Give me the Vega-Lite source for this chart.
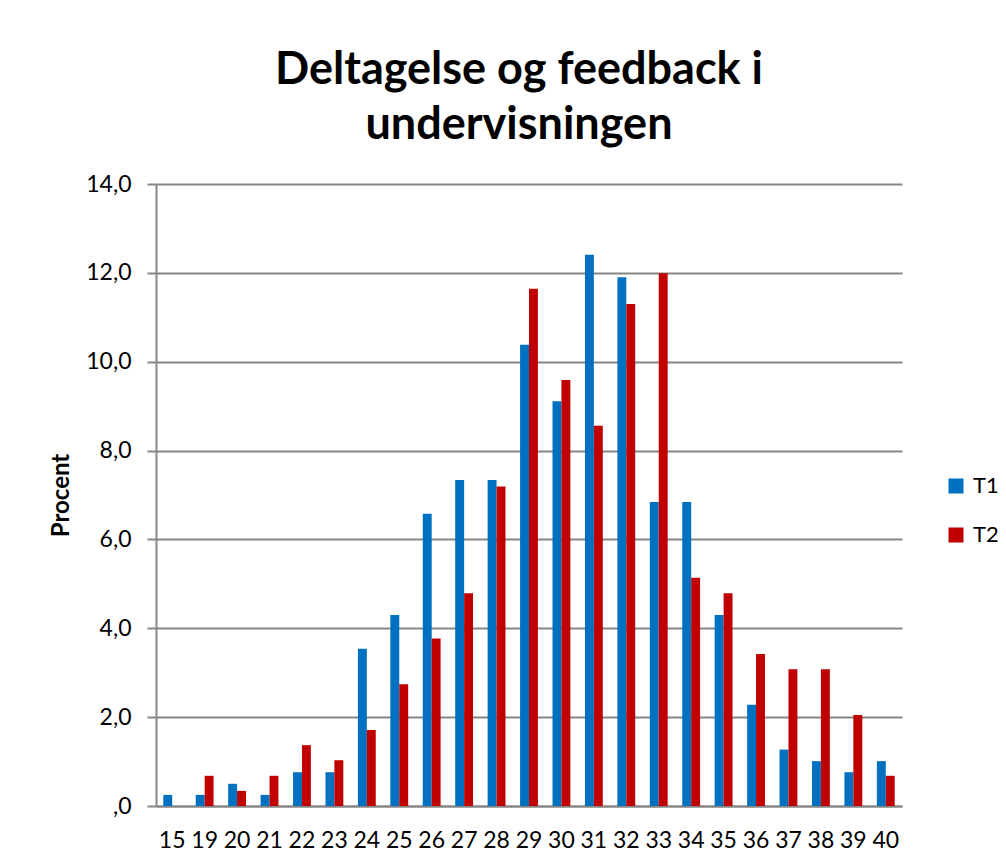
{
  "$schema": "https://vega.github.io/schema/vega-lite/v6.json",
  "autosize": {"type": "none"},
  "padding": {"left": 156, "top": 184, "right": 104, "bottom": 59},
  "width": 746,
  "height": 622,
  "background": "white",
  "title": {
    "text": ["Deltagelse og feedback i", "undervisningen"],
    "font": "Lato",
    "fontSize": 45,
    "fontWeight": "bold",
    "lineHeight": 55,
    "color": "black",
    "anchor": "middle",
    "dx": -10,
    "offset": 25
  },
  "data": {
    "values": [
      {"cat": "15", "series": "T1", "value": 0.25}, {"cat": "15", "series": "T2", "value": 0},
      {"cat": "19", "series": "T1", "value": 0.25}, {"cat": "19", "series": "T2", "value": 0.68},
      {"cat": "20", "series": "T1", "value": 0.5}, {"cat": "20", "series": "T2", "value": 0.34},
      {"cat": "21", "series": "T1", "value": 0.25}, {"cat": "21", "series": "T2", "value": 0.68},
      {"cat": "22", "series": "T1", "value": 0.76}, {"cat": "22", "series": "T2", "value": 1.37},
      {"cat": "23", "series": "T1", "value": 0.76}, {"cat": "23", "series": "T2", "value": 1.03},
      {"cat": "24", "series": "T1", "value": 3.54}, {"cat": "24", "series": "T2", "value": 1.71},
      {"cat": "25", "series": "T1", "value": 4.3}, {"cat": "25", "series": "T2", "value": 2.74},
      {"cat": "26", "series": "T1", "value": 6.58}, {"cat": "26", "series": "T2", "value": 3.77},
      {"cat": "27", "series": "T1", "value": 7.34}, {"cat": "27", "series": "T2", "value": 4.79},
      {"cat": "28", "series": "T1", "value": 7.34}, {"cat": "28", "series": "T2", "value": 7.19},
      {"cat": "29", "series": "T1", "value": 10.38}, {"cat": "29", "series": "T2", "value": 11.64},
      {"cat": "30", "series": "T1", "value": 9.11}, {"cat": "30", "series": "T2", "value": 9.59},
      {"cat": "31", "series": "T1", "value": 12.41}, {"cat": "31", "series": "T2", "value": 8.56},
      {"cat": "32", "series": "T1", "value": 11.9}, {"cat": "32", "series": "T2", "value": 11.3},
      {"cat": "33", "series": "T1", "value": 6.84}, {"cat": "33", "series": "T2", "value": 11.99},
      {"cat": "34", "series": "T1", "value": 6.84}, {"cat": "34", "series": "T2", "value": 5.14},
      {"cat": "35", "series": "T1", "value": 4.3}, {"cat": "35", "series": "T2", "value": 4.79},
      {"cat": "36", "series": "T1", "value": 2.28}, {"cat": "36", "series": "T2", "value": 3.42},
      {"cat": "37", "series": "T1", "value": 1.27}, {"cat": "37", "series": "T2", "value": 3.08},
      {"cat": "38", "series": "T1", "value": 1.01}, {"cat": "38", "series": "T2", "value": 3.08},
      {"cat": "39", "series": "T1", "value": 0.76}, {"cat": "39", "series": "T2", "value": 2.05},
      {"cat": "40", "series": "T1", "value": 1.01}, {"cat": "40", "series": "T2", "value": 0.68}
    ]
  },
  "mark": {"type": "bar"},
  "encoding": {
    "x": {
      "field": "cat",
      "type": "nominal",
      "sort": null,
      "scale": {"paddingInner": 0.45, "paddingOuter": 0.225},
      "axis": {
        "title": null,
        "labelAngle": 0,
        "labelFont": "Lato",
        "labelFontSize": 23,
        "labelColor": "black",
        "ticks": false,
        "tickSize": 0,
        "labelPadding": 23,
        "domainColor": "#868686",
        "domainWidth": 2,
        "grid": false
      }
    },
    "xOffset": {"field": "series", "type": "nominal"},
    "y": {
      "field": "value",
      "type": "quantitative",
      "scale": {"domain": [0, 14], "nice": false},
      "axis": {
        "title": "Procent",
        "titleFont": "Lato",
        "titleFontSize": 24,
        "titleFontWeight": "bold",
        "titleColor": "black",
        "titlePadding": 12,
        "values": [0, 2, 4, 6, 8, 10, 12, 14],
        "labelExpr": "datum.value == 0 ? ',0' : replace(format(datum.value, '.1f'), '.', ',')",
        "labelFont": "Lato",
        "labelFontSize": 23,
        "labelColor": "black",
        "labelPadding": 16,
        "tickSize": 9,
        "tickColor": "#868686",
        "tickWidth": 2,
        "domainColor": "#868686",
        "domainWidth": 2,
        "gridColor": "#868686",
        "gridWidth": 2
      }
    },
    "color": {
      "field": "series",
      "type": "nominal",
      "scale": {"domain": ["T1", "T2"], "range": ["#0070C0", "#C00000"]},
      "legend": {
        "title": null,
        "orient": "none",
        "legendX": 789,
        "legendY": 291,
        "symbolType": "square",
        "symbolSize": 225,
        "symbolStrokeWidth": 0,
        "labelFont": "Lato",
        "labelFontSize": 22,
        "labelColor": "black",
        "labelOffset": 6,
        "rowPadding": 27
      }
    }
  },
  "config": {
    "view": {"stroke": null}
  }
}
